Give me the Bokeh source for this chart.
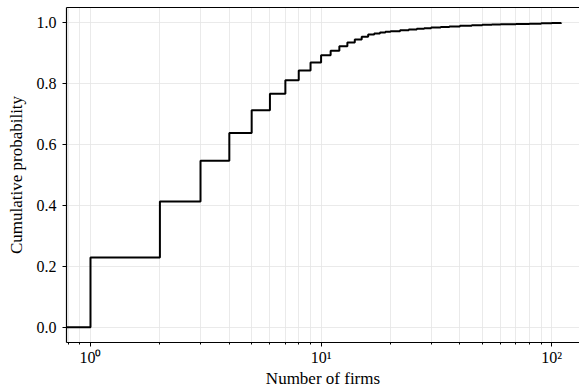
from bokeh.plotting import figure
from bokeh.models import Range1d, FixedTicker, LinearAxis, NumeralTickFormatter
from bokeh.embed import file_html
from bokeh.resources import INLINE

# Data: distinct firm counts and ECDF level reached at each
firms = [1, 2, 3, 4, 5, 6, 7, 8, 9, 10, 11, 12, 13, 14, 15, 16, 17, 18, 19, 20,
         22, 24, 26, 28, 30, 33, 36, 40, 45, 50, 55, 60, 70, 80, 90, 100, 110]
cum_prob = [0.229, 0.413, 0.547, 0.638, 0.713, 0.767, 0.811, 0.843, 0.869, 0.893,
            0.908, 0.923, 0.935, 0.945, 0.954, 0.961, 0.965, 0.968, 0.970, 0.972,
            0.975, 0.978, 0.980, 0.982, 0.984, 0.986, 0.988, 0.990, 0.992, 0.993,
            0.994, 0.995, 0.996, 0.997, 0.998, 0.999, 1.000]
x_major = [1, 10, 100]
x_major_labels = ["10⁰", "10¹", "10²"]
x_minor = [0.8, 0.9, 2, 3, 4, 5, 6, 7, 8, 9, 20, 30, 40, 50, 60, 70, 80, 90]
y_ticks = [0.0, 0.2, 0.4, 0.6, 0.8, 1.0]

FONT = "Liberation Serif"
x_lo, x_hi = 0.787, 132
y_lo, y_hi = -0.05, 1.05

p = figure(width=579, height=392, x_axis_type="log",
           x_range=Range1d(x_lo, x_hi), y_range=Range1d(y_lo, y_hi),
           output_backend="svg", toolbar_location=None,
           min_border_left=66, min_border_right=0, min_border_top=7,
           min_border_bottom=50)
p.outline_line_color = None
p.background_fill_color = "white"
p.border_fill_color = "white"

xs = [x_lo] + firms
ys = [0.0] + cum_prob
p.step(xs, ys, mode="after", line_color="black", line_width=2)

xt = FixedTicker(ticks=x_major, minor_ticks=x_minor)
yt = FixedTicker(ticks=y_ticks)

xa = p.xaxis[0]
xa.ticker = xt
xa.major_label_overrides = {v: l for v, l in zip(x_major, x_major_labels)}
xa.axis_label = "Number of firms"
ya = p.yaxis[0]
ya.ticker = yt
ya.formatter = NumeralTickFormatter(format="0.0")
ya.axis_label = "Cumulative probability"

for ax in (xa, ya):
    ax.axis_line_color = "black"
    ax.axis_line_width = 1.2
    ax.major_tick_line_color = "black"
    ax.major_tick_in = 0
    ax.major_tick_out = 4
    ax.minor_tick_line_color = "black"
    ax.minor_tick_in = 0
    ax.minor_tick_out = 2
    ax.major_label_text_font = FONT
    ax.major_label_text_font_size = "16px"
    ax.major_label_text_color = "black"
    ax.axis_label_text_font = FONT
    ax.axis_label_text_font_size = "17px"
    ax.axis_label_text_font_style = "normal"
    ax.axis_label_text_color = "black"
ya.minor_tick_line_color = None
xa.major_label_standoff = 2
xa.axis_label_standoff = 0
ya.major_label_standoff = 6
ya.axis_label_standoff = 8

# top spine
top = LinearAxis(ticker=FixedTicker(ticks=[]), major_label_text_font_size="0px",
                 major_tick_line_color=None, minor_tick_line_color=None,
                 axis_line_color="black", axis_line_width=1.2)
p.add_layout(top, "above")

p.xgrid.ticker = xt
p.ygrid.ticker = yt
p.xgrid.grid_line_color = "#e4e4e4"
p.xgrid.minor_grid_line_color = "#e4e4e4"
p.ygrid.grid_line_color = "#e4e4e4"
p.xgrid.grid_line_width = 0.8
p.xgrid.minor_grid_line_width = 0.8
p.ygrid.grid_line_width = 0.8

open("out.html", "w").write(file_html(p, INLINE))
